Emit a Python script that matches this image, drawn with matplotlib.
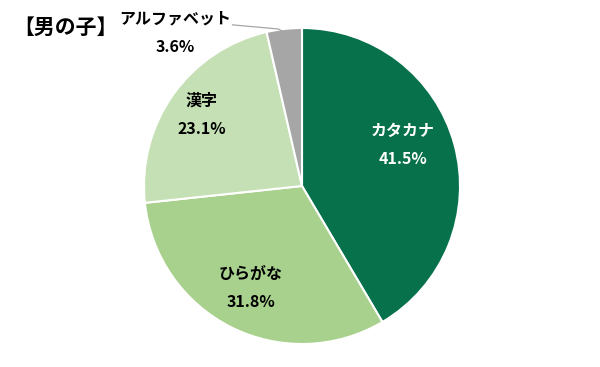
import matplotlib
matplotlib.use("Agg")
import matplotlib.pyplot as plt
import numpy as np

plt.rcParams['font.family'] = ['Noto Sans CJK JP', 'DejaVu Sans']

categories = ["カタカナ", "ひらがな", "漢字", "アルファベット"]
values = [41.5, 31.8, 23.1, 3.6]
colors = ["#06714a", "#a9d18e", "#c5e0b4", "#a6a6a6"]
title = "【男の子】"

fig = plt.figure(figsize=(6, 3.67), dpi=100)
cx, cy, r = 302, 186, 158
W, H = 600, 367
ax = fig.add_axes([(cx - r) / W, (H - cy - r) / H, 2 * r / W, 2 * r / H])
wedges, _ = ax.pie(values, colors=colors, startangle=90, counterclock=False,
                   radius=1.0, wedgeprops=dict(edgecolor="white", linewidth=1.5))
ax.set_xlim(-1, 1)
ax.set_ylim(-1, 1)
ax.set_aspect("equal")
ax.axis("off")

FS = 11.5
# label placements (radius fraction, angle offset in degrees)
place = [(0.69, 7), (0.72, 0), (0.78, 0)]
text_colors = ["white", "black", "black"]
for i, (rf, dth) in enumerate(place):
    w = wedges[i]
    ang = np.deg2rad((w.theta1 + w.theta2) / 2 + dth)
    x, y = rf * np.cos(ang), rf * np.sin(ang)
    ax.text(x, y + 0.09, categories[i], ha="center", va="center",
            fontsize=FS, fontweight="bold", color=text_colors[i])
    ax.text(x, y - 0.09, f"{values[i]}%", ha="center", va="center",
            fontsize=FS, fontweight="bold", color=text_colors[i])

# small slice label outside with leader line
w = wedges[3]
ang = np.deg2rad((w.theta1 + w.theta2) / 2)
ex, ey = np.cos(ang) * 0.98, np.sin(ang) * 0.98
lx, ly = -0.80, 1.06
ax.plot([lx + 0.36, ex - 0.04, ex], [ly - 0.04, ey + 0.02, ey],
        color="#a6a6a6", lw=0.9, clip_on=False)
ax.text(lx, ly, categories[3], ha="center", va="center",
        fontsize=FS, fontweight="bold", color="black")
ax.text(lx, ly - 0.18, f"{values[3]}%", ha="center", va="center",
        fontsize=FS, fontweight="bold", color="black")

fig.text(65 / W, 1 - 27 / H, title, ha="center", va="center",
         fontsize=15, fontweight="bold", color="black")

fig.savefig("out.png", dpi=100, facecolor="white")
